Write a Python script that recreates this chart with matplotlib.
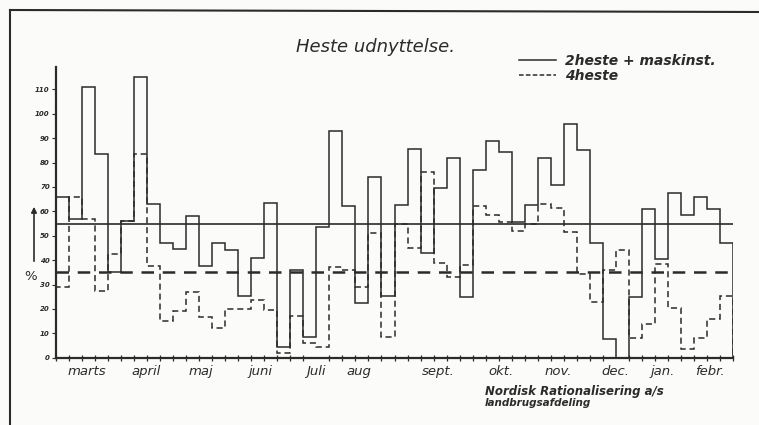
import numpy as np
import matplotlib
matplotlib.use('Agg')
import matplotlib.pyplot as plt
from matplotlib.lines import Line2D

# weekly utilisation (%), march -> february
heste2_maskine = [66, 57, 111, 83.5, 35, 56, 115, 63, 47, 44.5, 58, 37.5, 47,
                  44, 25.5, 41, 63.5, 4.5, 36, 8.5, 53.5, 93, 62, 22.5, 74, 25.5,
                  62.5, 85.5, 43, 69.5, 82, 25, 77, 89, 84.5, 55.5, 62.5, 82, 71,
                  96, 85, 47, 7.5, 0, 25, 61, 40.5, 67.5, 58.5, 66, 61, 47]
heste4 = [29, 66, 57, 27.5, 42.5, 56, 83.5, 37.5, 15, 19, 27, 16.5, 12,
          20, 20, 23.5, 19.5, 2, 17, 6, 4.5, 37, 36, 29, 51, 8.5,
          55, 45, 76, 39, 33, 38, 62, 58.5, 55.5, 52, 55, 63, 61.5,
          51.5, 34.5, 23, 36, 44, 8, 14, 38.5, 20.5, 3.5, 8, 16, 25.5]
mean_2heste = 55
mean_4heste = 35

months = ['marts', 'april', 'maj', 'juni', 'Juli', 'aug', 'sept.', 'okt.',
          'nov.', 'dec.', 'jan.', 'febr.']
month_pos = [2.4, 6.9, 11.1, 15.7, 20.0, 23.3, 29.4, 34.2, 38.6, 43.0, 46.6, 50.2]

ink = '#2b2b2b'
paper = '#fbfbfa'
W, H = 759, 425

fig = plt.figure(figsize=(W / 100, H / 100), dpi=100, facecolor=paper)
ax = fig.add_axes([56 / W, (H - 357.7) / H, (733 - 56) / W, (357.7 - 67) / H])
ax.set_facecolor(paper)

edges = np.arange(len(heste2_maskine) + 1)
ax.stairs(heste2_maskine, edges, baseline=0, color=ink, lw=1.1)
ax.stairs(heste4, edges, baseline=0, color=ink, lw=1.1, linestyle=(0, (4, 2.5)))

ax.axhline(mean_2heste, color=ink, lw=1.2)
ax.axhline(mean_4heste, color=ink, lw=1.8, linestyle=(0, (5, 3.5)))

ax.set_xlim(0, 52)
ax.set_ylim(0, 119.2)
for s in ['top', 'right']:
    ax.spines[s].set_visible(False)
for s in ['left', 'bottom']:
    ax.spines[s].set_color(ink)
    ax.spines[s].set_linewidth(1.6)

ax.set_xticks(edges, minor=True)
ax.tick_params(axis='x', which='minor', direction='inout', length=5, width=0.9, color=ink)
ax.set_xticks(month_pos)
ax.set_xticklabels(months, fontsize=9.5, style='italic', color=ink)
ax.tick_params(axis='x', which='major', length=0, pad=5)

ax.set_yticks(range(0, 111, 10))
ax.set_yticklabels([str(v) for v in range(0, 111, 10)], fontsize=5,
                   style='italic', weight='bold', color=ink)
ax.tick_params(axis='y', direction='out', length=3, width=0.8, color=ink, pad=1.5)

fig.text(31 / W, 1 - 276 / H, '%', fontsize=9.5, color=ink, ha='center', va='center')
fig.add_artist(matplotlib.patches.FancyArrowPatch(
    (34 / W, 1 - 264 / H), (34 / W, 1 - 204 / H), transform=fig.transFigure,
    arrowstyle='-|>', mutation_scale=8, color=ink, lw=1.2))

fig.text(375 / W, 1 - 47 / H, 'Heste udnyttelse.', fontsize=13, style='italic',
         color=ink, ha='center', va='center')

handles = [Line2D([], [], color=ink, lw=1.1),
           Line2D([], [], color=ink, lw=1.1, linestyle=(0, (3, 1.5)))]
fig.legend(handles, ['2heste + maskinst.', '4heste'], loc='upper left',
           bbox_to_anchor=(512 / W, 1 - 47 / H), frameon=False,
           prop={'size': 10, 'style': 'italic', 'weight': 'bold'},
           handlelength=2.7, handletextpad=0.6, labelspacing=0.05,
           borderpad=0, labelcolor=ink)

fig.text(485 / W, 1 - 392 / H, 'Nordisk Rationalisering a/s', fontsize=8.5,
         style='italic', weight='bold', color=ink, va='center')
fig.text(485 / W, 1 - 403 / H, 'landbrugsafdeling', fontsize=7.5,
         style='italic', weight='bold', color=ink, va='center')

# page frame
fig.add_artist(Line2D([10 / W, 1], [1 - 10 / H, 1 - 12 / H], color=ink, lw=1.5))
fig.add_artist(Line2D([10 / W, 10 / W], [1 - 10 / H, 0], color=ink, lw=1.5))

fig.savefig('out.png', dpi=100, facecolor=paper)
